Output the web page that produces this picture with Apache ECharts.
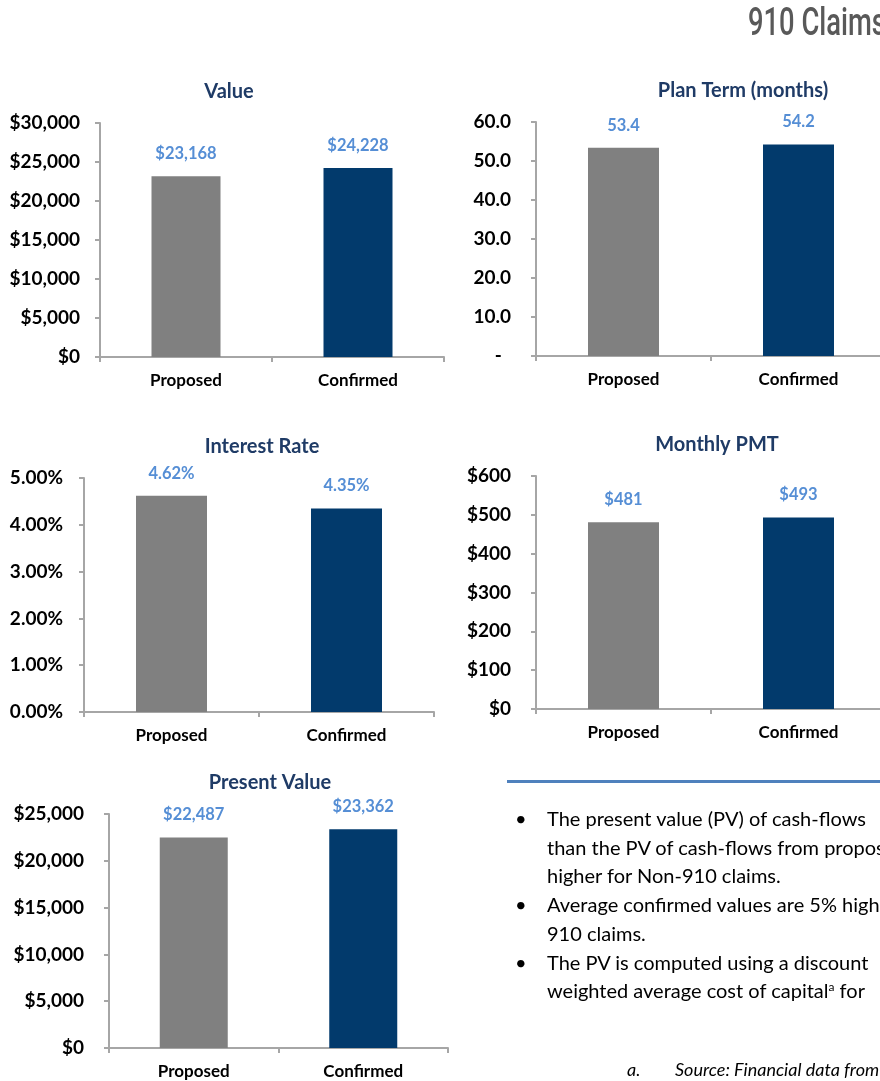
<!DOCTYPE html>
<html>
<head>
<meta charset="utf-8">
<title>910 Claims</title>
<script src="https://cdn.jsdelivr.net/npm/echarts@6/dist/echarts.min.js"></script>
<style>
html, body { margin: 0; padding: 0; background: #fff; }
body { position: relative; width: 880px; height: 1081px; overflow: hidden; font-family: Lato, "Open Sans", sans-serif; }
#chart { position: absolute; left: 0; top: 0; width: 880px; height: 1081px; }
.page-title {
  position: absolute; left: 748px; top: 0px;
  font-family: Roboto, "DejaVu Sans Condensed", sans-serif; font-weight: 500;
  font-size: 38px; color: #595959; white-space: nowrap;
  transform: scaleX(0.72); transform-origin: left top;
}
.rule { position: absolute; left: 507px; top: 780px; width: 400px; height: 3px; background: #4f81bd; }
.notes {
  position: absolute; left: 515px; top: 804px; margin: 0; padding: 0; list-style: none;
  font-size: 20px; line-height: 28.7px; color: #000; white-space: nowrap;
}
.notes li { position: relative; padding-left: 32px; }
.notes li::before { content: "\2022"; position: absolute; left: 0; top: 0; }
.notes sup { font-size: 12px; line-height: 0; vertical-align: 7px; }
.footnote {
  position: absolute; left: 627px; top: 1058px; font-size: 18px; font-style: italic;
  color: #000; white-space: nowrap;
}
.footnote span { display: inline-block; width: 48px; }
</style>
</head>
<body>
<div id="chart"></div>
<div class="page-title">910 Claims</div>
<div class="rule"></div>
<ul class="notes">
  <li>The present value (PV) of cash-flows<br>than the PV of cash-flows from proposed<br>higher for Non-910 claims.</li>
  <li>Average confirmed values are 5% higher<br>910 claims.</li>
  <li>The PV is computed using a discount<br>weighted average cost of capital<sup>a</sup> for</li>
</ul>
<div class="footnote"><span>a.</span>Source: Financial data from</div>

<script>
// categories and values
const categories = ["Proposed", "Confirmed"];
const valueData = [23168, 24228];
const termData = [53.4, 54.2];
const rateData = [4.62, 4.35];
const pmtData = [481, 493];
const pvData = [22487, 23362];

const barColors = ["#808080", "#023a6c"];
const axisColor = "#a6a6a6";
const labelBlue = "#558ed5";
const titleColor = "#1f3b66";
const font = "Lato, 'Open Sans', sans-serif";

const fmtDollar = (v) => "$" + Math.round(v).toLocaleString("en-US");
const fmtTerm = (v) => (v === 0 ? "-  " : v.toFixed(1));
const fmtRate = (v) => v.toFixed(2) + "%";

// layout of each small chart on the page
const panels = [
  { title: "Value", data: valueData, max: 30000, interval: 5000, fmt: fmtDollar,
    grid: { left: 100, top: 123, width: 344, height: 234 }, barWidth: 69, labelMargin: 20, tx: 229, ty: 92 },
  { title: "Plan Term (months)", data: termData, max: 60, interval: 10, fmt: fmtTerm,
    grid: { left: 536, top: 122, width: 350, height: 234 }, barWidth: 71, labelMargin: 25, tx: 743, ty: 91 },
  { title: "Interest Rate", data: rateData, max: 5, interval: 1, fmt: fmtRate,
    grid: { left: 84, top: 478, width: 350, height: 234 }, barWidth: 71, labelMargin: 21, tx: 262, ty: 447 },
  { title: "Monthly PMT", data: pmtData, max: 600, interval: 100, fmt: fmtDollar,
    grid: { left: 536, top: 476, width: 350, height: 233 }, barWidth: 71, labelMargin: 25, tx: 717, ty: 445 },
  { title: "Present Value", data: pvData, max: 25000, interval: 5000, fmt: fmtDollar,
    grid: { left: 109, top: 814, width: 339, height: 234 }, barWidth: 68, labelMargin: 25, tx: 270, ty: 783 },
];

const grids = [];
const xAxes = [];
const yAxes = [];
const series = [];
const graphics = [];

panels.forEach((p, i) => {
  grids.push({ ...p.grid, containLabel: false, outerBoundsMode: "none" });
  xAxes.push({
    type: "category",
    gridIndex: i,
    data: categories,
    axisLine: { lineStyle: { color: axisColor, width: 2 } },
    axisTick: { show: true, length: 5, lineStyle: { color: axisColor, width: 2 } },
    axisLabel: { color: "#000", fontFamily: font, fontWeight: "bold", fontSize: 17, margin: 15 },
  });
  yAxes.push({
    type: "value",
    gridIndex: i,
    min: 0,
    max: p.max,
    interval: p.interval,
    splitLine: { show: false },
    axisLine: { show: true, lineStyle: { color: axisColor, width: 2 } },
    axisTick: { show: true, length: 5, lineStyle: { color: axisColor, width: 2 } },
    axisLabel: { color: "#000", fontFamily: font, fontWeight: "bold", fontSize: 19, margin: p.labelMargin, formatter: p.fmt },
  });
  series.push({
    type: "bar",
    xAxisIndex: i,
    yAxisIndex: i,
    barWidth: p.barWidth,
    data: p.data.map((v, j) => ({ value: v, itemStyle: { color: barColors[j] } })),
    label: {
      show: true,
      position: "top",
      distance: 14,
      color: labelBlue,
      fontFamily: font,
      fontWeight: "bold",
      fontSize: 16.5,
      formatter: (d) => p.fmt(d.value),
    },
  });
  graphics.push({
    type: "text",
    x: p.tx,
    y: p.ty,
    style: {
      text: p.title,
      fill: titleColor,
      font: "bold 20px " + font,
      textAlign: "center",
      textVerticalAlign: "middle",
    },
  });
});

const chart = echarts.init(document.getElementById("chart"));
chart.setOption({
  animation: false,
  grid: grids,
  xAxis: xAxes,
  yAxis: yAxes,
  series: series,
  graphic: graphics,
});
</script>
</body>
</html>
